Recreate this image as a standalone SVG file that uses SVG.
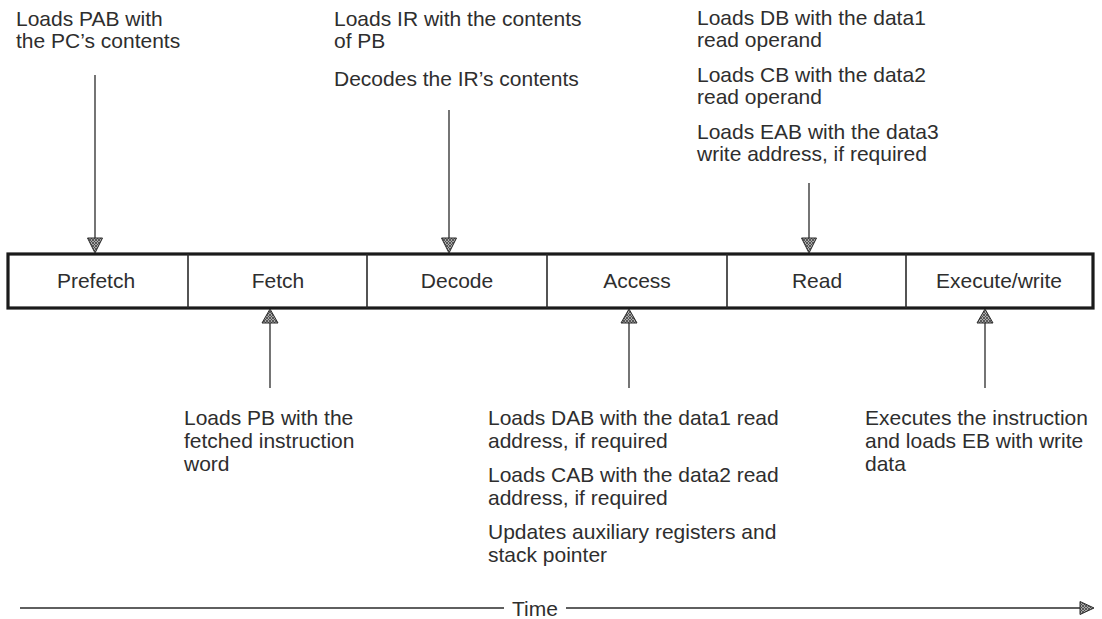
<svg xmlns="http://www.w3.org/2000/svg" width="1102" height="619" viewBox="0 0 1102 619">
<style>
.t{font-family:"Liberation Sans",Arial,sans-serif;font-size:21px;fill:#2e2e2e}
.c{text-anchor:middle}
.ln{stroke:#2a2a2a;stroke-width:1.3;fill:none}
.hd{fill:url(#hatch);stroke:#2a2a2a;stroke-width:1}
.outer{fill:#fff;stroke:#1a1a1a;stroke-width:3.2}
.div{stroke:#2a2a2a;stroke-width:1.6}
</style>
<defs>
<pattern id="hatch" width="3" height="3" patternUnits="userSpaceOnUse">
<rect width="3" height="3" fill="#aaa"/>
<path d="M0,3 L3,0 M0,0 L3,3" stroke="#444" stroke-width="0.8"/>
</pattern>
</defs>
<rect width="1102" height="619" fill="#fff"/>
<g id="pipeline">
<rect class="outer" x="8" y="254" width="1085" height="54"/>
<line class="div" x1="188" y1="254" x2="188" y2="308"/>
<line class="div" x1="367" y1="254" x2="367" y2="308"/>
<line class="div" x1="547" y1="254" x2="547" y2="308"/>
<line class="div" x1="727" y1="254" x2="727" y2="308"/>
<line class="div" x1="906" y1="254" x2="906" y2="308"/>
</g>
<g id="prefetch"><text class="t c" x="96" y="288">Prefetch</text></g>
<g id="fetch"><text class="t c" x="278" y="288">Fetch</text></g>
<g id="decode"><text class="t c" x="457" y="288">Decode</text></g>
<g id="access"><text class="t c" x="637" y="288">Access</text></g>
<g id="read"><text class="t c" x="817" y="288">Read</text></g>
<g id="execute"><text class="t c" x="999" y="288">Execute/write</text></g>
<g id="note-prefetch">
<text class="t" x="16" y="26">Loads PAB with</text>
<text class="t" x="16" y="48">the PC’s contents</text>
</g>
<g id="note-decode">
<text class="t" x="334" y="26">Loads IR with the contents</text>
<text class="t" x="334" y="48">of PB</text>
<text class="t" x="334" y="86">Decodes the IR’s contents</text>
</g>
<g id="note-read">
<text class="t" x="697" y="25">Loads DB with the data1</text>
<text class="t" x="697" y="47">read operand</text>
<text class="t" x="697" y="82">Loads CB with the data2</text>
<text class="t" x="697" y="104">read operand</text>
<text class="t" x="697" y="139">Loads EAB with the data3</text>
<text class="t" x="697" y="161">write address, if required</text>
</g>
<g id="note-fetch">
<text class="t" x="184" y="425">Loads PB with the</text>
<text class="t" x="184" y="448">fetched instruction</text>
<text class="t" x="184" y="471">word</text>
</g>
<g id="note-access">
<text class="t" x="488" y="425">Loads DAB with the data1 read</text>
<text class="t" x="488" y="448">address, if required</text>
<text class="t" x="488" y="482">Loads CAB with the data2 read</text>
<text class="t" x="488" y="505">address, if required</text>
<text class="t" x="488" y="539">Updates auxiliary registers and</text>
<text class="t" x="488" y="562">stack pointer</text>
</g>
<g id="note-execute">
<text class="t" x="865" y="425">Executes the instruction</text>
<text class="t" x="865" y="448">and loads EB with write</text>
<text class="t" x="865" y="471">data</text>
</g>
<g id="connectors">
<line class="ln" x1="95" y1="75" x2="95" y2="240"/>
<polygon class="hd" points="87.5,238 102.5,238 95,253"/>
<line class="ln" x1="449" y1="110" x2="449" y2="240"/>
<polygon class="hd" points="441.5,238 456.5,238 449,253"/>
<line class="ln" x1="809" y1="183" x2="809" y2="240"/>
<polygon class="hd" points="801.5,238 816.5,238 809,253"/>
<line class="ln" x1="270" y1="322" x2="270" y2="388"/>
<polygon class="hd" points="262,323 278,323 270,309"/>
<line class="ln" x1="629" y1="322" x2="629" y2="388"/>
<polygon class="hd" points="621,323 637,323 629,309"/>
<line class="ln" x1="985" y1="322" x2="985" y2="388"/>
<polygon class="hd" points="977,323 993,323 985,309"/>
<line class="ln" x1="20" y1="608" x2="504" y2="608"/>
<line class="ln" x1="566" y1="608" x2="1082" y2="608"/>
<polygon class="hd" points="1080,601.5 1094,608 1080,614.5"/>
</g>
<g id="time"><text class="t" x="512" y="616">Time</text></g>
</svg>
